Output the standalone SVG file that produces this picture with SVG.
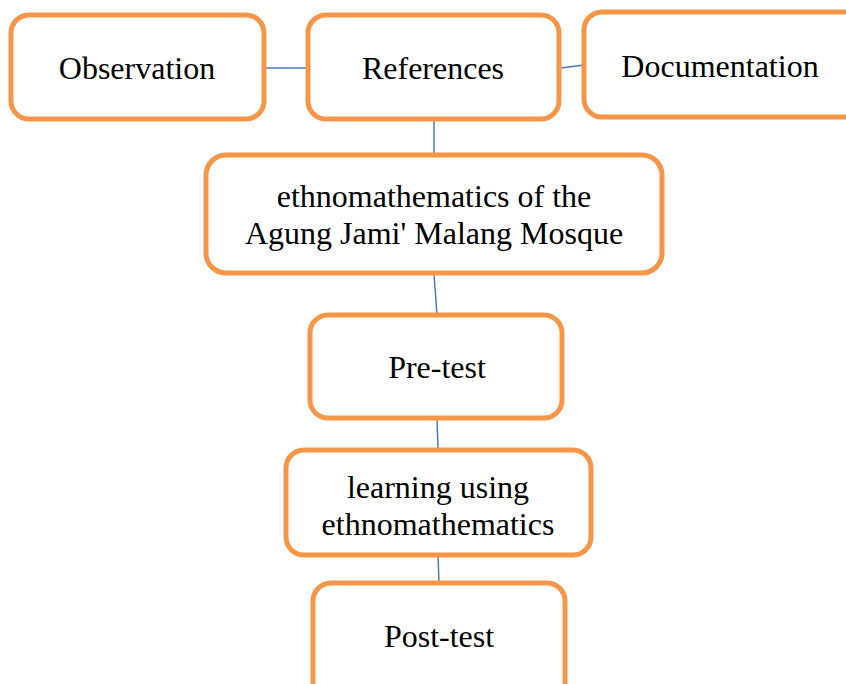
<svg xmlns="http://www.w3.org/2000/svg" width="846" height="684" viewBox="0 0 846 684">
<style>
.box{fill:#fff;stroke:#F79646;stroke-width:5}
.t{font-family:"Liberation Serif","Times New Roman",serif;font-size:32px;fill:#000;text-anchor:middle}
.c{stroke:#4A7EBB;stroke-width:1.5;fill:none}
</style>
<rect width="846" height="684" fill="#fff"/>
<g id="connectors">
<line class="c" x1="264" y1="68" x2="308" y2="68"/>
<line class="c" x1="561" y1="68" x2="584" y2="65"/>
<line class="c" x1="434" y1="119" x2="434" y2="155"/>
<line class="c" x1="434" y1="274" x2="437" y2="315"/>
<line class="c" x1="437" y1="418" x2="438" y2="450"/>
<line class="c" x1="438" y1="555" x2="439" y2="583"/>
</g>
<g id="observation">
<rect class="box" x="11" y="15" width="253" height="104" rx="18"/>
<text class="t" x="137" y="79">Observation</text>
</g>
<g id="references">
<rect class="box" x="308" y="15" width="251" height="104" rx="18"/>
<text class="t" x="433" y="79">References</text>
</g>
<g id="documentation">
<rect class="box" x="584" y="12" width="280" height="105" rx="18"/>
<text class="t" x="720" y="77">Documentation</text>
</g>
<g id="ethnomathematics">
<rect class="box" x="206" y="155" width="456" height="118" rx="20"/>
<text class="t" x="434" y="207">ethnomathematics of the</text>
<text class="t" x="434" y="244">Agung Jami' Malang Mosque</text>
</g>
<g id="pretest">
<rect class="box" x="310" y="315" width="252" height="103" rx="18"/>
<text class="t" x="437" y="378">Pre-test</text>
</g>
<g id="learning">
<rect class="box" x="286" y="450" width="305" height="105" rx="18"/>
<text class="t" x="438" y="498">learning using</text>
<text class="t" x="438" y="535">ethnomathematics</text>
</g>
<g id="posttest">
<rect class="box" x="313" y="583" width="252" height="120" rx="18"/>
<text class="t" x="439" y="647">Post-test</text>
</g>
</svg>
